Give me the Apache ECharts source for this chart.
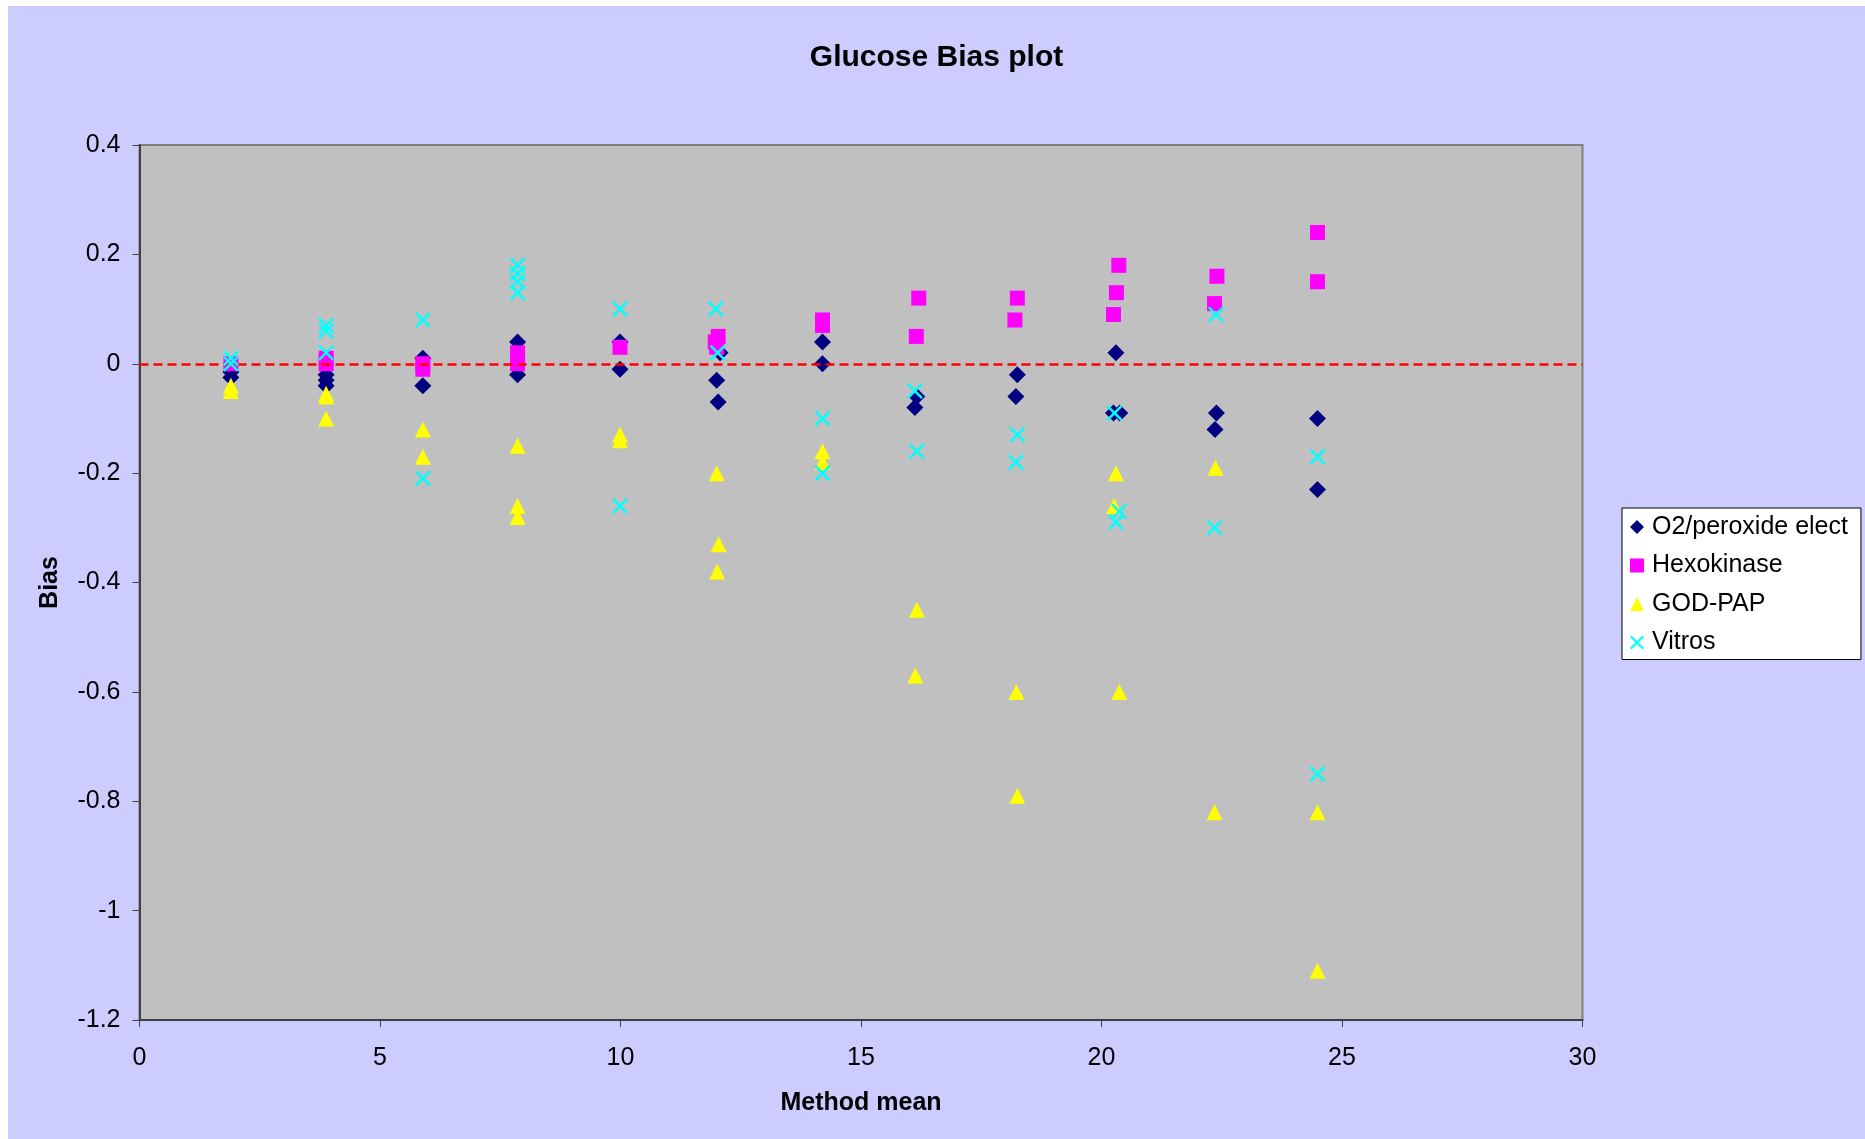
<!DOCTYPE html>
<html>
<head>
<meta charset="utf-8">
<title>Glucose Bias plot</title>
<script src="https://cdn.jsdelivr.net/npm/echarts@6/dist/echarts.min.js"></script>
<style>
  html, body { margin: 0; padding: 0; background: #ffffff; width: 1865px; height: 1139px; overflow: hidden; }
  #chart { position: absolute; left: 8px; top: 6px; width: 1857px; height: 1133px; background: #CCCCFF; }
</style>
</head>
<body>
<div id="chart"></div>
<script>
// Method mean (x) and bias (y) for each glucose method
const o2X  = [1.9, 1.9, 3.88, 3.88, 3.88, 5.89, 5.89, 7.86, 7.86, 9.99, 9.99, 12.07, 12.0, 12.03, 14.2, 14.2, 16.16, 16.12, 18.25, 18.22, 20.3, 20.25, 20.38, 22.39, 22.36, 24.49, 24.49];
const o2Y  = [-0.015, -0.025, -0.02, -0.03, -0.04, 0.01, -0.04, 0.04, -0.02, 0.04, -0.01, 0.02, -0.03, -0.07, 0.04, 0.0, -0.06, -0.08, -0.02, -0.06, 0.02, -0.09, -0.09, -0.09, -0.12, -0.10, -0.23];

const hexoX = [1.9, 3.88, 3.88, 5.89, 5.89, 7.86, 7.86, 7.86, 9.99, 12.03, 11.97, 12.0, 14.2, 14.2, 16.2, 16.15, 18.25, 18.2, 20.36, 20.31, 20.25, 22.4, 22.35, 24.49, 24.49];
const hexoY = [0.0, 0.01, 0.0, 0.0, -0.01, 0.02, 0.01, 0.0, 0.03, 0.05, 0.04, 0.03, 0.08, 0.07, 0.12, 0.05, 0.12, 0.08, 0.18, 0.13, 0.09, 0.16, 0.11, 0.24, 0.15];

const godX = [1.9, 1.9, 3.88, 3.88, 3.88, 5.89, 5.89, 7.86, 7.86, 7.86, 9.99, 9.99, 12.0, 12.04, 12.01, 14.2, 14.2, 16.16, 16.13, 18.23, 18.25, 20.3, 20.26, 20.37, 22.37, 22.35, 24.49, 24.49];
const godY = [-0.04, -0.05, -0.055, -0.06, -0.10, -0.12, -0.17, -0.15, -0.26, -0.28, -0.13, -0.14, -0.20, -0.33, -0.38, -0.16, -0.18, -0.45, -0.57, -0.60, -0.79, -0.20, -0.26, -0.60, -0.19, -0.82, -0.82, -1.11];

const vitrosX = [1.9, 1.9, 3.88, 3.88, 3.88, 5.89, 5.89, 7.86, 7.86, 7.86, 7.86, 9.99, 9.99, 11.98, 12.02, 14.2, 14.2, 16.12, 16.16, 18.25, 18.22, 20.27, 20.37, 20.3, 22.38, 22.35, 24.49, 24.49];
const vitrosY = [0.01, 0.0, 0.07, 0.06, 0.02, 0.08, -0.21, 0.18, 0.165, 0.15, 0.13, 0.10, -0.26, 0.10, 0.02, -0.10, -0.20, -0.05, -0.16, -0.13, -0.18, -0.09, -0.27, -0.29, 0.09, -0.30, -0.17, -0.75];

const seriesNames = ['O2/peroxide elect', 'Hexokinase', 'GOD-PAP', 'Vitros'];

// Axis tick settings
const xTicks = { min: 0, max: 30, interval: 5 };
const yTicks = { min: -1.2, max: 0.4, interval: 0.2 };

const pairs = (xs, ys) => xs.map((x, i) => [x, ys[i]]);

const FONT = 'Arial, "Liberation Sans", sans-serif';
// thin "x" marker drawn as a filled outline
const crossPath = 'path://M0,11L11,0L50,39L89,0L100,11L61,50L100,89L89,100L50,61L11,100L0,89L39,50Z';

const chart = echarts.init(document.getElementById('chart'), null, { renderer: 'canvas' });

chart.setOption({
  animation: false,
  backgroundColor: '#CCCCFF',
  textStyle: { fontFamily: FONT },
  title: {
    text: 'Glucose Bias plot',
    left: 'center',
    top: 32,
    textStyle: { fontFamily: FONT, fontSize: 30, fontWeight: 'bold', color: '#000' }
  },
  grid: {
    left: 131.5, top: 139, right: 282.5, bottom: 119,
    show: true, backgroundColor: '#C0C0C0', borderColor: '#808080', borderWidth: 2
  },
  legend: {
    orient: 'vertical',
    left: 1614, top: 502,
    padding: [5, 13, 3, 8],
    backgroundColor: '#ffffff',
    borderColor: '#000000', borderWidth: 1,
    borderRadius: 0,
    itemWidth: 14, itemHeight: 14, itemGap: 10.5,
    textStyle: { fontFamily: FONT, fontSize: 25, color: '#000', lineHeight: 28, padding: [0, 0, 0, 3] },
    data: [
      { name: seriesNames[0], icon: 'diamond' },
      { name: seriesNames[1], icon: 'rect' },
      { name: seriesNames[2], icon: 'triangle' },
      { name: seriesNames[3], icon: crossPath }
    ]
  },
  xAxis: {
    type: 'value',
    min: xTicks.min, max: xTicks.max, interval: xTicks.interval,
    name: 'Method mean', nameLocation: 'middle', nameGap: 71,
    nameTextStyle: { fontFamily: FONT, fontSize: 25, fontWeight: 'bold', color: '#000' },
    axisLine: { show: true, onZero: false, lineStyle: { color: '#404040', width: 2 } },
    axisTick: { show: true, inside: false, length: 7, lineStyle: { color: '#404040', width: 1 } },
    axisLabel: { fontFamily: FONT, fontSize: 25, color: '#000', margin: 26 },
    splitLine: { show: false }
  },
  yAxis: {
    type: 'value',
    min: yTicks.min, max: yTicks.max, interval: yTicks.interval,
    name: 'Bias', nameLocation: 'middle', nameGap: 77,
    nameTextStyle: { fontFamily: FONT, fontSize: 25, fontWeight: 'bold', color: '#000' },
    axisLine: { show: true, onZero: false, lineStyle: { color: '#404040', width: 2 } },
    axisTick: { show: true, inside: false, length: 7, lineStyle: { color: '#404040', width: 1 } },
    axisLabel: {
      fontFamily: FONT, fontSize: 25, color: '#000', margin: 19,
      padding: [4, 0, 0, 0],
      formatter: v => String(Math.round(v * 10) / 10)
    },
    splitLine: { show: false }
  },
  series: [
    {
      name: seriesNames[0], type: 'scatter', symbol: 'diamond', symbolSize: 17,
      itemStyle: { color: '#000080', opacity: 1 },
      data: pairs(o2X, o2Y), z: 2,
      markLine: {
        silent: true, symbol: 'none', label: { show: false },
        lineStyle: { color: '#FF0000', width: 2.5, type: [9, 5] },
        data: [[{ coord: [0, 0] }, { coord: [30, 0] }]]
      }
    },
    {
      name: seriesNames[1], type: 'scatter', symbol: 'rect', symbolSize: 15,
      itemStyle: { color: '#FF00FF', opacity: 1 },
      data: pairs(hexoX, hexoY), z: 3
    },
    {
      name: seriesNames[2], type: 'scatter', symbol: 'triangle', symbolSize: 16,
      itemStyle: { color: '#FFFF00', opacity: 1 },
      data: pairs(godX, godY), z: 4
    },
    {
      name: seriesNames[3], type: 'scatter', symbol: crossPath, symbolSize: 16,
      itemStyle: { color: '#00FFFF', opacity: 1 },
      data: pairs(vitrosX, vitrosY), z: 5
    }
  ]
});
</script>
</body>
</html>
